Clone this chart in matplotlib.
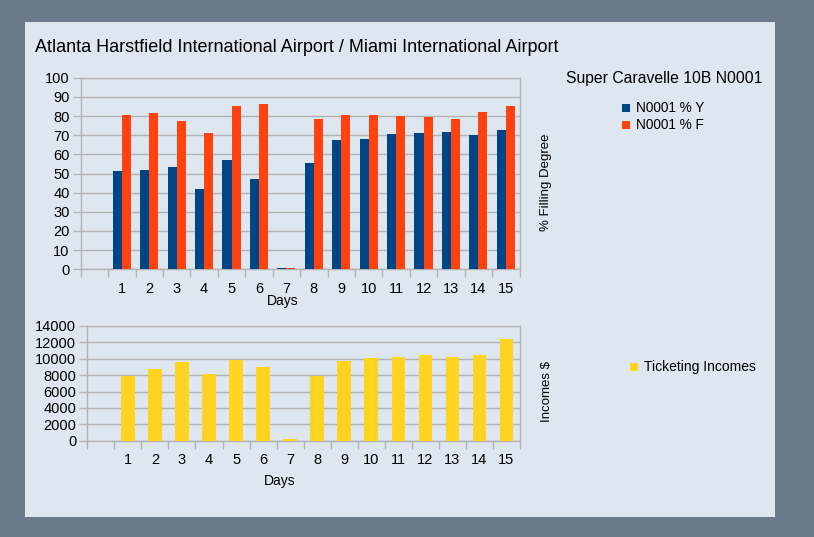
import numpy as np
import matplotlib
matplotlib.use("Agg")
import matplotlib.pyplot as plt
from matplotlib.patches import Rectangle

plt.rcParams['font.family'] = ['Liberation Sans', 'DejaVu Sans']

# ---- data ----
days = ["", "1", "2", "3", "4", "5", "6", "7", "8", "9", "10", "11", "12", "13", "14", "15"]
pct_y = [np.nan, 51.5, 52.0, 53.5, 42.0, 57.3, 47.3, 0.8, 55.5, 67.3, 68.0, 70.5, 71.3, 71.7, 70.2, 72.7]
pct_f = [np.nan, 80.5, 81.7, 77.5, 71.3, 85.0, 86.2, 0.8, 78.5, 80.7, 80.3, 80.0, 79.6, 78.5, 82.2, 85.3]
incomes = [np.nan, 7920, 8730, 9630, 8200, 9880, 8980, 160, 7840, 9750, 10080, 10160, 10400, 10200, 10400, 12450]

title = "Atlanta Harstfield International Airport / Miami International Airport"
legend_title = "Super Caravelle 10B N0001"
name_y = "N0001 % Y"
name_f = "N0001 % F"
name_inc = "Ticketing Incomes"
ylabel_top = "% Filling Degree"
ylabel_bot = "Incomes $"
xlabel = "Days"

c_y = "#004586"
c_f = "#ff420e"
c_inc = "#ffd320"
grid_c = "#b3b3b3"
panel_c = "#dee6ef"
outer_c = "#6a7a8a"

W, H = 814, 537
fig = plt.figure(figsize=(W / 100, H / 100), dpi=100)
fig.patch.set_facecolor(outer_c)

def fx(px):
    return px / W

def fy(py):
    return 1 - py / H

fig.patches.append(Rectangle((fx(25), fy(517)), fx(750), 495 / H,
                             transform=fig.transFigure, facecolor=panel_c,
                             edgecolor='none', zorder=-10))

def style_axes(ax, n):
    ax.set_facecolor('none')
    ax.set_zorder(1)
    for s in ax.spines.values():
        s.set_color(grid_c)
        s.set_linewidth(1.0)
    ax.set_xlim(0, n)
    ax.set_xticks(np.arange(0, n + 1))
    ax.set_xticklabels([])
    ax.set_xticks(np.arange(n) + 0.5, minor=True)
    ax.set_xticklabels(days, minor=True, fontsize=10.5)
    ax.tick_params(axis='x', which='major', length=6, color=grid_c, width=1)
    ax.tick_params(axis='x', which='minor', length=0, pad=9)
    ax.tick_params(axis='y', length=6, color=grid_c, width=1, labelsize=10.5, pad=2)
    ax.yaxis.grid(True, color=grid_c, linewidth=1)
    ax.set_axisbelow(True)

n = len(days)
x = np.arange(n) + 0.5

# ---- top chart ----
ax1 = fig.add_axes([fx(80.7), fy(269.3), fx(519.5 - 80.7), (269.3 - 77.7) / H])
bw = 0.33
ax1.bar(x - bw / 2, pct_y, width=bw, color=c_y, edgecolor='none', zorder=3)
ax1.bar(x + bw / 2, pct_f, width=bw, color=c_f, edgecolor='none', zorder=3)
ax1.set_ylim(0, 100)
ax1.set_yticks(np.arange(0, 101, 10))
style_axes(ax1, n)

# ---- bottom chart ----
ax2 = fig.add_axes([fx(87.3), fy(440.7), fx(520 - 87.3), (440.7 - 326) / H])
ax2.bar(x, incomes, width=0.5, color=c_inc, edgecolor='none', zorder=3)
ax2.set_ylim(0, 14000)
ax2.set_yticks(np.arange(0, 14001, 2000))
style_axes(ax2, n)

# ---- texts ----
fig.text(fx(35), fy(48), title, fontsize=13, ha='left', va='center')
fig.text(fx(282.7), fy(301.5), xlabel, fontsize=10, ha='center', va='center')
fig.text(fx(280), fy(481.5), xlabel, fontsize=10, ha='center', va='center')
fig.text(fx(546), fy(182), ylabel_top, fontsize=9.5, rotation=90, ha='center', va='center')
fig.text(fx(547), fy(391.5), ylabel_bot, fontsize=9.5, rotation=90, ha='center', va='center')
fig.text(fx(664.5), fy(78.5), legend_title, fontsize=11.3, ha='center', va='center')

def legend_entry(px, py, color, label, fs):
    fig.patches.append(Rectangle((fx(px), fy(py + 4)), fx(8), 8 / H,
                                 transform=fig.transFigure, facecolor=color,
                                 edgecolor='none', zorder=2))
    fig.text(fx(px + 13.5), fy(py), label, fontsize=fs, ha='left', va='center')

legend_entry(622.3, 108.3, c_y, name_y, 9.8)
legend_entry(622.3, 125, c_f, name_f, 9.8)
legend_entry(630, 367.3, c_inc, name_inc, 10)

fig.savefig("out.png", dpi=100, facecolor=fig.get_facecolor())
